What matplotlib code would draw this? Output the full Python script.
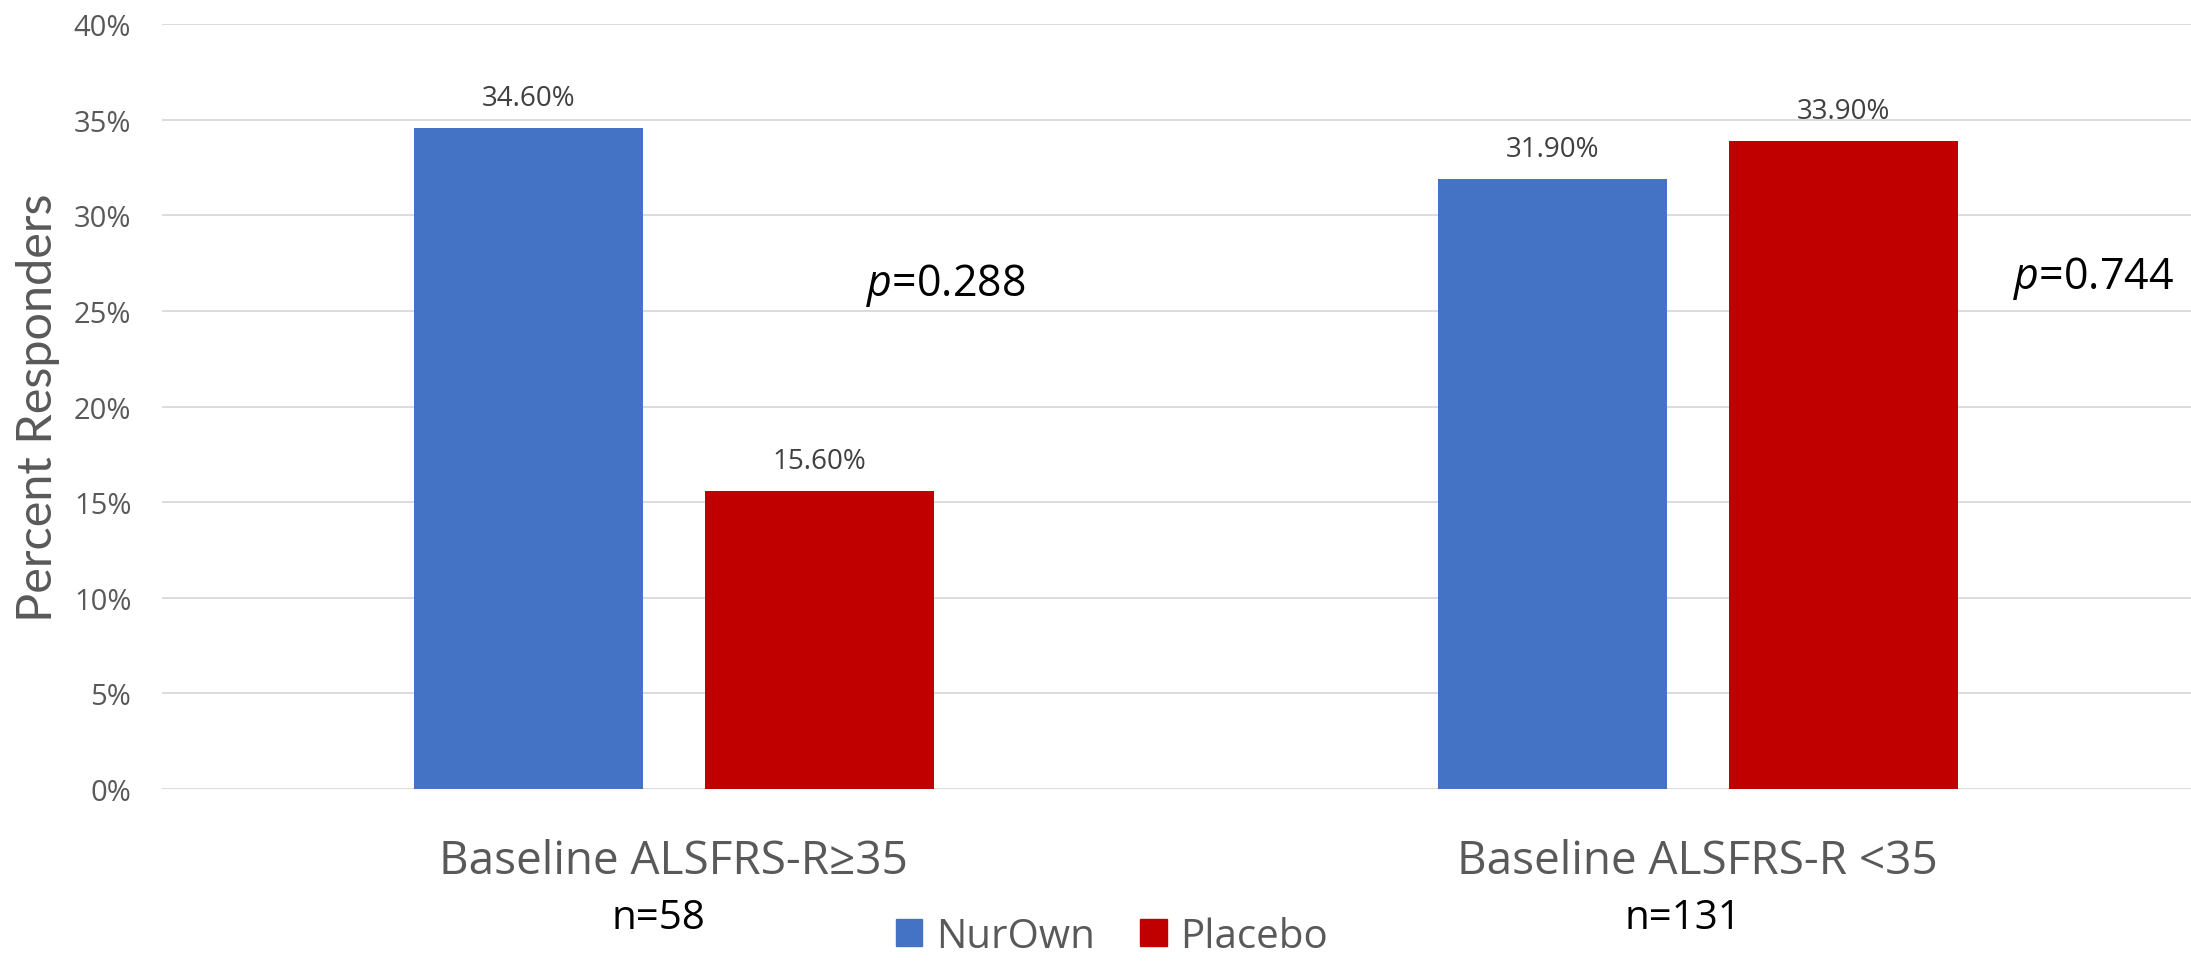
import matplotlib.pyplot as plt
from matplotlib.patches import Patch
from matplotlib.ticker import FuncFormatter

plt.rcParams['font.family'] = ['Open Sans', 'DejaVu Sans']
plt.rcParams['mathtext.fontset'] = 'custom'
plt.rcParams['mathtext.it'] = 'Open Sans:italic'
plt.rcParams['mathtext.rm'] = 'Open Sans'

categories = ['Baseline ALSFRS-R\u226535', 'Baseline ALSFRS-R <35']
n_labels = ['n=58', 'n=131']
series = ['NurOwn', 'Placebo']
nurown = [34.6, 31.9]
placebo = [15.6, 33.9]
p_values = ['0.288', '0.744']
colors = ['#4472C4', '#C00000']

fig = plt.figure(figsize=(21.91, 9.62), dpi=100)
ax = fig.add_axes([0.0739, 0.1793, 0.9261, 0.7942])

width = 0.2236
offset = 0.1423
x = range(len(categories))
for vals, sign, color, name in zip([nurown, placebo], [-1, 1], colors, series):
    xs = [i + sign * offset for i in x]
    ax.bar(xs, vals, width=width, color=color, label=name, zorder=2)
    for xi, v in zip(xs, vals):
        ax.annotate(f'{v:.2f}%', (xi, v), xytext=(0, 21.5), textcoords='offset points',
                    ha='center', va='center', fontsize=20, color='#404040')

ax.set_xlim(-0.5, 1.4816)
ax.set_ylim(0, 40)
ax.set_yticks(range(0, 41, 5))
ax.yaxis.set_major_formatter(FuncFormatter(lambda v, _: f'{v:.0f}%'))
ax.tick_params(axis='y', length=0, labelsize=21, labelcolor='#595959', pad=22)
ax.set_xticks([])
ax.grid(axis='y', color='#D9D9D9', linewidth=1.3, zorder=0)
ax.set_axisbelow(True)
for s in ax.spines.values():
    s.set_visible(False)

xform = ax.get_xaxis_transform()
for i, (cat, n) in enumerate(zip(categories, n_labels)):
    ax.text(i, -0.111, cat, transform=xform, ha='center', va='baseline',
            fontsize=33, color='#595959')
    ax.text(i - 0.015, -0.183, n, transform=xform, ha='center', va='baseline',
            fontsize=29, color='black')

# p-values next to each group
p_pos = [(0.188, 25.84), (1.308, 26.2)]
for (px, py), p in zip(p_pos, p_values):
    ax.text(px, py, f'$p$={p}', ha='left', va='baseline', fontsize=31, color='black')

fig.text(0.0173, 0.5764, 'Percent Responders', rotation=90, ha='center', va='center',
         fontsize=35, color='#595959', family=['Lato', 'DejaVu Sans'])

handles = [Patch(color=c) for c in colors]
fig.legend(handles, series, loc='center', bbox_to_anchor=(0.5075, 0.0255), ncol=2,
           frameon=False, fontsize=29, labelcolor='#595959', handlelength=0.66,
           handleheight=0.66, handletextpad=0.34, columnspacing=1.13,
           borderaxespad=0, borderpad=0)

fig.savefig('out.png', dpi=100)
